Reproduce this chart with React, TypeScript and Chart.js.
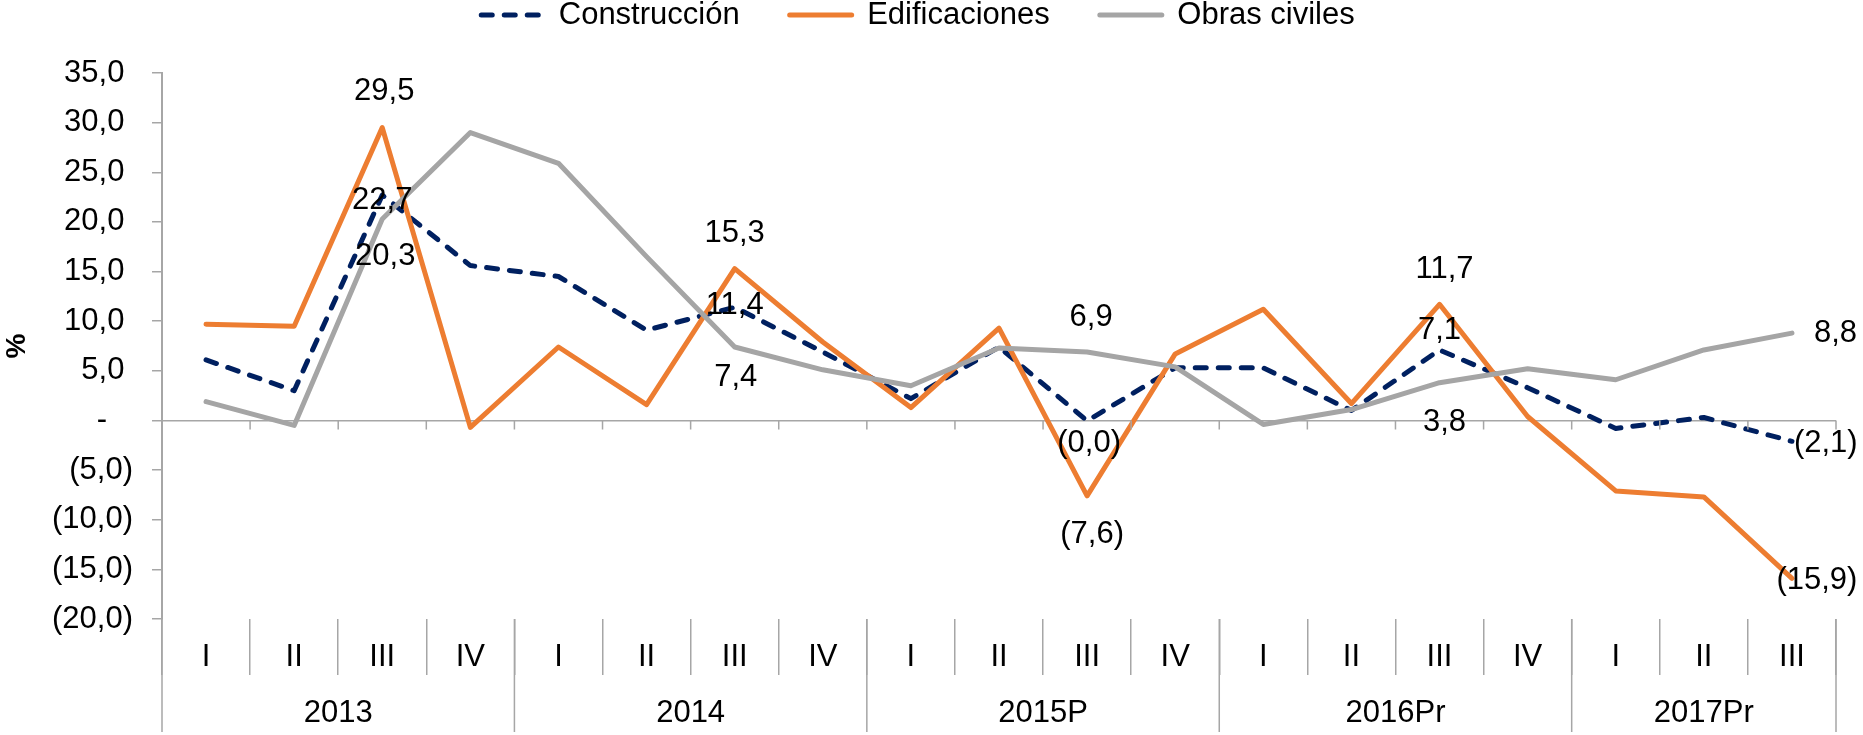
import React, { useEffect, useRef } from 'react';
import { Chart, registerables } from 'chart.js';

Chart.register(...registerables);

// ---------- data ----------
const quarters = ['I', 'II', 'III', 'IV', 'I', 'II', 'III', 'IV', 'I', 'II', 'III', 'IV', 'I', 'II', 'III', 'IV', 'I', 'II', 'III'];
const years = ['2013', '2014', '2015P', '2016Pr', '2017Pr'];
const quartersPerYear = [4, 4, 4, 4, 3];

const seriesNames = ['Construcción', 'Edificaciones', 'Obras civiles'];
const construccion = [6.1, 3.0, 22.7, 15.6, 14.5, 9.1, 11.4, 6.9, 2.2, 7.4, -0.04, 5.3, 5.3, 1.0, 7.1, 3.3, -0.8, 0.3, -2.1];
const edificaciones = [9.7, 9.5, 29.5, -0.7, 7.4, 1.6, 15.3, 7.9, 1.3, 9.3, -7.6, 6.7, 11.2, 1.7, 11.7, 0.4, -7.1, -7.7, -15.9];
const obrasCiviles = [1.9, -0.5, 20.3, 29.0, 25.9, 16.5, 7.4, 5.1, 3.5, 7.3, 6.9, 5.4, -0.4, 1.1, 3.8, 5.2, 4.1, 7.1, 8.8];

const yMin = -20;
const yMax = 35;
const yStep = 5;

const labeledIndices = [2, 6, 10, 14, 18];

// ---------- styles ----------
const FONT = '"Liberation Sans", Arial, Helvetica, sans-serif';
const FS = 31;
const NAVY = '#002060';
const ORANGE = '#ED7D31';
const GRAY = '#A5A5A5';
const AXIS = '#A6A6A6';
const LINE_W = 5;

// label placement per series, per labeled index (pixel offsets from the point)
const LABEL_PLACEMENT = [
  [{ dx: 0, dy: 5 }, { dx: 0, dy: -2 }, { dx: 2, dy: 23 }, { dx: 0, dy: -20 }, { dx: 2, dy: 2, align: 'left' }],
  [{ dx: 2, dy: -36 }, { dx: 0, dy: -35 }, { dx: 5, dy: 39 }, { dx: 5, dy: -35 }, { dx: 25, dy: 2 }],
  [{ dx: 3, dy: 38 }, { dx: 1, dy: 30 }, { dx: 4, dy: -35 }, { dx: 5, dy: 40 }, { dx: 22, dy: 0, align: 'left' }],
];

const fmtNum = (v: number) => {
  const a = Math.abs(v).toFixed(1).replace('.', ',');
  return v < 0 ? `(${a})` : a;
};

const fmtTick = (v: number) => {
  if (v === 0) return '-   ';
  if (v < 0) return `(${Math.abs(v).toFixed(1).replace('.', ',')})`;
  return `${v.toFixed(1).replace('.', ',')} `;
};

const dataLabels = {
  id: 'dataLabels',
  afterDatasetsDraw(chart: any) {
    const { ctx } = chart;
    ctx.save();
    ctx.font = `${FS}px ${FONT}`;
    ctx.fillStyle = '#000';
    ctx.textBaseline = 'middle';
    chart.data.datasets.forEach((ds: any, di: number) => {
      const meta = chart.getDatasetMeta(di);
      labeledIndices.forEach((idx, li) => {
        const pt = meta.data[idx];
        if (!pt) return;
        const p: any = LABEL_PLACEMENT[di][li];
        ctx.textAlign = p.align || 'center';
        ctx.fillText(fmtNum(ds.data[idx]), pt.x + p.dx, pt.y + p.dy);
      });
    });
    ctx.restore();
  },
};

const decorations = {
  id: 'decorations',
  afterDraw(chart: any) {
    const { ctx, chartArea } = chart;
    const xs = chart.scales.x;
    const ys = chart.scales.y;
    const n = quarters.length;
    const edge = (k: number) =>
      k === 0 ? chartArea.left : k === n ? chartArea.right : (xs.getPixelForValue(k - 1) + xs.getPixelForValue(k)) / 2;
    const y0 = ys.getPixelForValue(0);
    ctx.save();
    ctx.strokeStyle = AXIS;
    ctx.lineWidth = 1.5;
    ctx.beginPath();
    for (let k = 1; k <= n; k++) {
      const px = edge(k);
      ctx.moveTo(px, y0);
      ctx.lineTo(px, y0 + 9);
    }
    const bounds = [0];
    let acc = 0;
    quartersPerYear.forEach((c) => {
      acc += c;
      bounds.push(acc);
    });
    bounds.forEach((b) => {
      const px = edge(b);
      ctx.moveTo(px, chartArea.bottom);
      ctx.lineTo(px, chartArea.bottom + 113);
    });
    ctx.stroke();
    ctx.font = `${FS}px ${FONT}`;
    ctx.fillStyle = '#000';
    ctx.textAlign = 'center';
    ctx.textBaseline = 'middle';
    years.forEach((yr, i) => {
      const cx = (edge(bounds[i]) + edge(bounds[i + 1])) / 2;
      ctx.fillText(yr, cx, chartArea.bottom + 94);
    });
    ctx.restore();
  },
};

export default function App() {
  const ref = useRef<HTMLCanvasElement>(null);

  useEffect(() => {
    document.body.style.margin = '0';
    Chart.defaults.font.family = FONT;
    Chart.defaults.color = '#000';
    const chart = new Chart(ref.current as HTMLCanvasElement, {
      type: 'line',
      data: {
        labels: quarters,
        datasets: [
          {
            label: seriesNames[0],
            data: construccion,
            borderColor: NAVY,
            backgroundColor: NAVY,
            borderWidth: LINE_W,
            borderDash: [11, 12],
            borderCapStyle: 'round',
            borderJoinStyle: 'round',
            pointRadius: 0,
            tension: 0,
            order: 2,
          },
          {
            label: seriesNames[1],
            data: edificaciones,
            borderColor: ORANGE,
            backgroundColor: ORANGE,
            borderWidth: LINE_W,
            borderCapStyle: 'round',
            borderJoinStyle: 'round',
            pointRadius: 0,
            tension: 0,
            order: 1,
          },
          {
            label: seriesNames[2],
            data: obrasCiviles,
            borderColor: GRAY,
            backgroundColor: GRAY,
            borderWidth: LINE_W,
            borderCapStyle: 'round',
            borderJoinStyle: 'round',
            pointRadius: 0,
            tension: 0,
            order: 0,
          },
        ],
      },
      options: {
        responsive: false,
        animation: false,
        devicePixelRatio: 1,
        layout: { padding: { top: -50.5, right: 27, bottom: 0, left: 0 } },
        plugins: {
          legend: {
            position: 'top',
            weight: 1000,
            labels: {
              usePointStyle: true,
              pointStyle: 'line',
              pointStyleWidth: 62,
              padding: 50,
              font: { size: FS, family: FONT },
              color: '#000',
              generateLabels: (c: any) =>
                c.data.datasets.map((ds: any, i: number) => ({
                  text: ds.label,
                  fillStyle: ds.borderColor,
                  strokeStyle: ds.borderColor,
                  lineWidth: ds.borderWidth,
                  lineDash: ds.borderDash || [],
                  lineCap: 'round',
                  lineJoin: 'round',
                  pointStyle: 'line',
                  rotation: 0,
                  hidden: false,
                  datasetIndex: i,
                  fontColor: '#000',
                })),
            },
          },
          title: {
            display: true,
            text: '',
            position: 'top',
            weight: 500,
            font: { size: 10, lineHeight: 1.2 },
            padding: { top: 0, bottom: 20.5 },
          },
          tooltip: { enabled: false },
        },
        scales: {
          x: {
            type: 'category',
            offset: true,
            grid: {
              display: true,
              offset: true,
              drawOnChartArea: false,
              drawTicks: true,
              tickLength: 56,
              color: AXIS,
              lineWidth: 1.5,
            },
            border: { display: false },
            ticks: {
              padding: -36,
              maxRotation: 0,
              minRotation: 0,
              autoSkip: false,
              font: { size: FS, family: FONT },
              color: '#000',
            },
            afterFit: (s: any) => {
              s.height = 116;
            },
          },
          y: {
            min: yMin,
            max: yMax,
            ticks: {
              stepSize: yStep,
              callback: (v: any) => fmtTick(Number(v)),
              padding: 19,
              font: { size: FS, family: FONT },
              color: '#000',
            },
            grid: {
              drawOnChartArea: true,
              color: (c: any) => (c.tick && c.tick.value === 0 ? AXIS : 'rgba(0,0,0,0)'),
              tickColor: AXIS,
              tickLength: 10,
              lineWidth: 1.5,
            },
            border: { display: true, color: AXIS, width: 2 },
            title: {
              display: true,
              text: '%',
              font: { size: 28, weight: 'bold', family: FONT },
              padding: 0,
              color: '#000',
            },
            afterFit: (s: any) => {
              s.width = 162;
            },
          },
        },
      } as any,
      plugins: [dataLabels, decorations],
    });
    return () => chart.destroy();
  }, []);

  return (
    <div style={{ width: 1863, height: 735 }}>
      <canvas ref={ref} width={1863} height={735} style={{ display: 'block' }} />
    </div>
  );
}
